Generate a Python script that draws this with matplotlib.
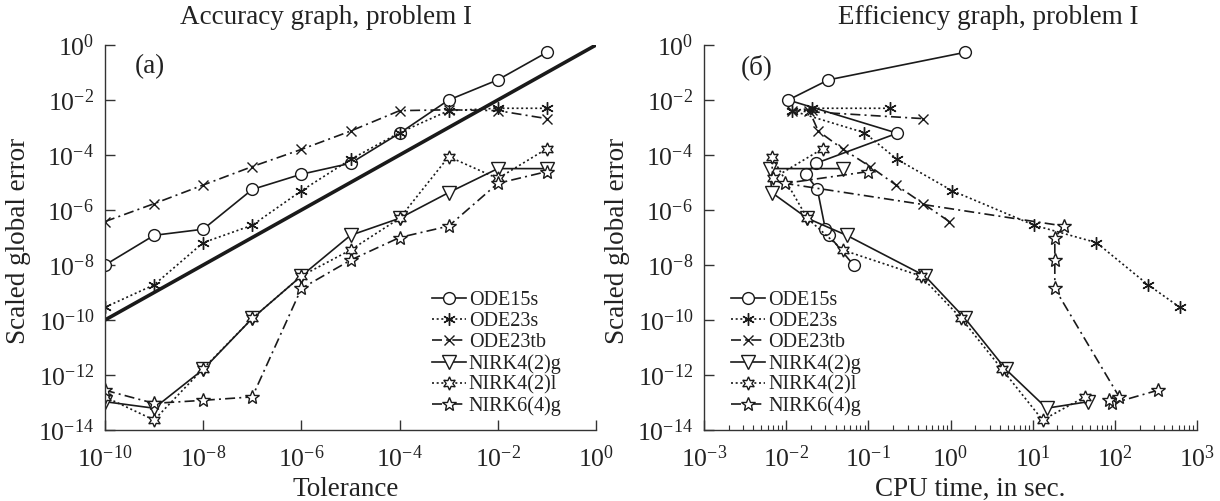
import numpy as np
import matplotlib
matplotlib.use("Agg")
import matplotlib.pyplot as plt
from matplotlib.ticker import LogLocator, NullLocator, LogFormatterMathtext

plt.rcParams['font.family'] = ['Liberation Serif', 'DejaVu Serif']
plt.rcParams['mathtext.fontset'] = 'stix'

# ---------------- data ----------------
tol = [1e-10, 1e-9, 1e-8, 1e-7, 1e-6, 1e-5, 1e-4, 1e-3, 1e-2, 1e-1]

err_ode15s = [1.0e-8, 1.2e-7, 2.0e-7, 5.6e-6, 2.0e-5, 5.0e-5, 6.2e-4, 1.0e-2, 5.4e-2, 0.54]
err_ode23s = [2.9e-10, 1.9e-9, 6.5e-8, 2.8e-7, 5.0e-6, 6.9e-5, 6.5e-4, 4.1e-3, 5.0e-3, 5.0e-3]
err_ode23tb = [3.8e-7, 1.7e-6, 8.1e-6, 3.8e-5, 1.6e-4, 7.4e-4, 4.1e-3, 4.4e-3, 4.1e-3, 2.1e-3]
err_nirk42g = [1.07e-13, 6.2e-14, 1.6e-12, 1.15e-10, 4.0e-9, 1.2e-7, 5.0e-7, 4.3e-6, 3.2e-5, 3.2e-5]
err_nirk42l = [1.6e-13, 2.3e-14, 1.7e-12, 1.15e-10, 4.0e-9, 3.5e-8, 5.0e-7, 8.7e-5, 1.4e-5, 1.7e-4]
err_nirk64g = [2.8e-13, 9.3e-14, 1.2e-13, 1.6e-13, 1.4e-9, 1.5e-8, 1.0e-7, 2.6e-7, 9.3e-6, 2.5e-5]

cpu_ode15s = [0.066, 0.033, 0.030, 0.024, 0.0174, 0.023, 0.225, 0.0106, 0.0327, 1.50]
cpu_ode23s = [618, 254, 59.8, 10.4, 1.05, 0.225, 0.0893, 0.0117, 0.0209, 0.183]
cpu_ode23tb = [0.966, 0.466, 0.217, 0.105, 0.0495, 0.0246, 0.0191, 0.0209, 0.0117, 0.466]
cpu_nirk42g = [47.4, 14.8, 4.72, 1.50, 0.489, 0.0545, 0.0181, 0.00667, 0.00635, 0.0495]
cpu_nirk42l = [43.2, 13.2, 4.18, 1.35, 0.433, 0.0488, 0.0181, 0.00667, 0.00686, 0.0278]
cpu_nirk64g = [336, 93.3, 85.1, 113, 18.6, 18.6, 18.6, 24.2, 0.00966, 0.100]

ref_x = [1e-10, 1.0]
ref_y = [1e-10, 1.0]

labels = ["ODE15s", "ODE23s", "ODE23tb", "NIRK4(2)g", "NIRK4(2)l", "NIRK6(4)g"]

# ---------------- styles ----------------
dotted = (0, (1.2, 1.6))
dashdot = (0, (6, 2.5, 1.2, 2.5))
hexagram = (6, 1, 0)
styles = [
    dict(ls='-', marker='o', ms=8.5),
    dict(ls=dotted, marker=(6, 2, 0), ms=9, mew=1.0),
    dict(ls=dashdot, marker='x', ms=7),
    dict(ls='-', marker='v', ms=10),
    dict(ls=dotted, marker=hexagram, ms=9.5),
    dict(ls=dashdot, marker='*', ms=10.5),
]

errs = [err_ode15s, err_ode23s, err_ode23tb, err_nirk42g, err_nirk42l, err_nirk64g]
cpus = [cpu_ode15s, cpu_ode23s, cpu_ode23tb, cpu_nirk42g, cpu_nirk42l, cpu_nirk64g]

W, H = 1220, 501
fig = plt.figure(figsize=(W / 100, H / 100), dpi=100)

axL = fig.add_axes([105 / W, 1 - 430 / H, 491 / W, 385 / H])
axR = fig.add_axes([704 / W, 1 - 430 / H, 493 / W, 385 / H])

TXT = '#222222'


def draw(ax, xs_list):
    for xs, e, st, lab in zip(xs_list, errs, styles, labels):
        ax.plot(xs, e, color='#1a1a1a', lw=1.2, mfc='white', mec='#1a1a1a',
                label=lab, **st)


draw(axL, [tol] * 6)
axL.plot(ref_x, ref_y, color='#1a1a1a', lw=2.6, solid_capstyle='butt')
draw(axR, cpus)

for ax in (axL, axR):
    ax.set_xscale('log')
    ax.set_yscale('log')
    ax.set_ylim(1e-14, 1)
    ax.spines['top'].set_visible(False)
    ax.spines['right'].set_visible(False)
    for s in ('left', 'bottom'):
        ax.spines[s].set_color('#333333')
        ax.spines[s].set_linewidth(1.0)
    ax.set_yticks(10.0 ** np.arange(-14, 1, 2))
    ax.yaxis.set_minor_locator(NullLocator())
    ax.yaxis.set_major_formatter(LogFormatterMathtext())
    ax.tick_params(which='major', direction='in', length=7, width=1.0,
                   labelsize=18.5, colors='#333333', labelcolor=TXT)
    ax.tick_params(axis='y', which='major', pad=8)
    ax.tick_params(axis='x', which='major', pad=11)
    ax.tick_params(which='minor', direction='in', length=3.5, width=0.8,
                   colors='#333333')
    ax.set_ylabel("Scaled global error", fontsize=19.5, color=TXT)
    ax.yaxis.set_label_coords(-0.15, 0.49)

axL.set_xlim(1e-10, 1)
axL.set_xticks(10.0 ** np.arange(-10, 1, 2))
axL.xaxis.set_minor_locator(NullLocator())
axL.xaxis.set_major_formatter(LogFormatterMathtext())
axL.set_xlabel("Tolerance", fontsize=19.5, color=TXT)
axL.xaxis.set_label_coords(0.49, -0.122)

axR.set_xlim(1e-3, 1e3)
axR.set_xticks(10.0 ** np.arange(-3, 4, 1))
axR.xaxis.set_minor_locator(LogLocator(base=10, subs=np.arange(2, 10)))
axR.xaxis.set_major_formatter(LogFormatterMathtext())
axR.set_xlabel("CPU time, in sec.", fontsize=19.5, color=TXT)
axR.xaxis.set_label_coords(0.54, -0.122)

fig.text(326 / W, 1 - 18 / H, "Accuracy graph, problem I", ha='center', va='center',
         fontsize=19.5, color=TXT)
fig.text(988 / W, 1 - 18 / H, "Efficiency graph, problem I", ha='center', va='center',
         fontsize=19.5, color=TXT)

axL.text(0.092, 0.943, "(a)", transform=axL.transAxes, ha='center', va='center',
         fontsize=19.5, color=TXT)
axR.text(0.107, 0.943, "(б)", transform=axR.transAxes, ha='center', va='center',
         fontsize=19.5, color=TXT)

leg_kw = dict(frameon=False, fontsize=14.5, handlelength=1.7, handletextpad=0.15,
              labelspacing=0.09, borderpad=0, borderaxespad=0, numpoints=1,
              labelcolor=TXT)
axL.legend(loc='upper left', bbox_to_anchor=(0.665, 0.36), **leg_kw)
axR.legend(loc='upper left', bbox_to_anchor=(0.055, 0.36), **leg_kw)

fig.savefig("out.png", dpi=100)
